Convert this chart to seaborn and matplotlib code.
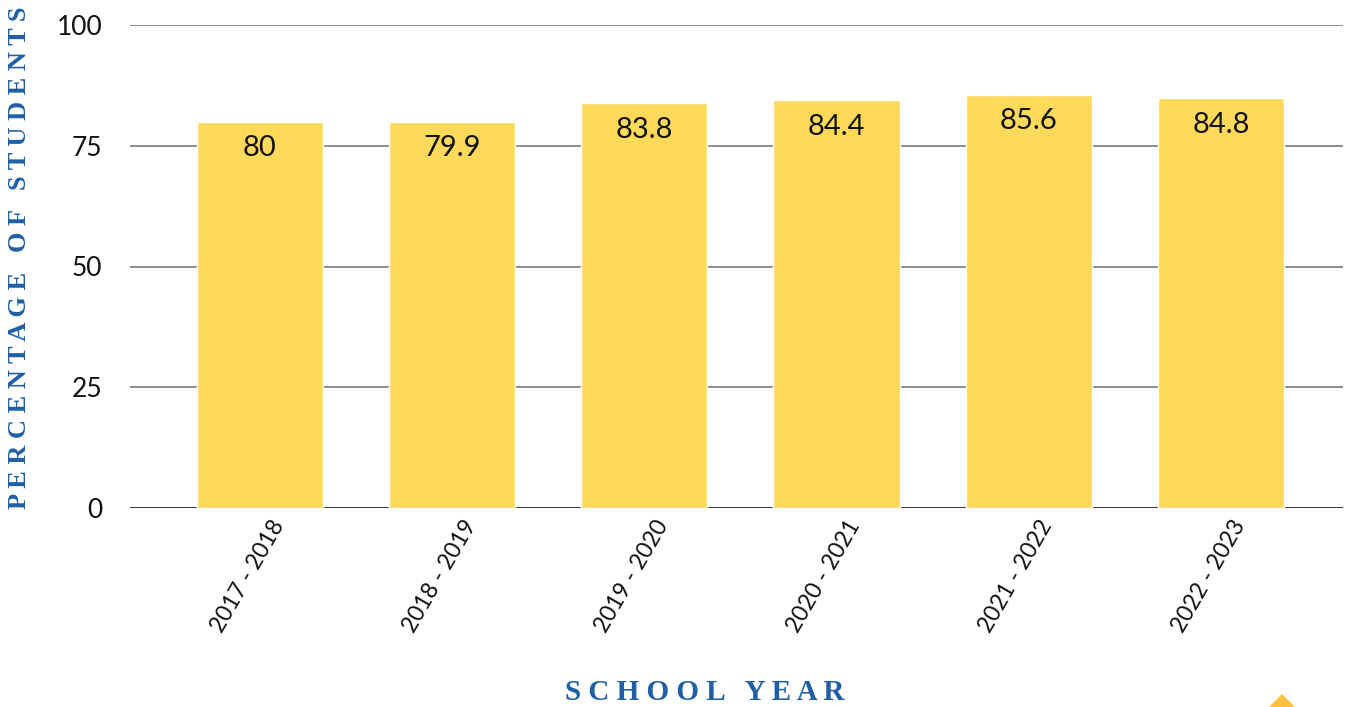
import matplotlib
matplotlib.use("Agg")
import matplotlib.pyplot as plt
from matplotlib.patches import Polygon
from matplotlib.transforms import ScaledTranslation
import seaborn as sns
import pandas as pd

school_years = ["2017 - 2018", "2018 - 2019", "2019 - 2020",
                "2020 - 2021", "2021 - 2022", "2022 - 2023"]
percentages = [80, 79.9, 83.8, 84.4, 85.6, 84.8]
y_ticks = [0, 25, 50, 75, 100]

df = pd.DataFrame({"year": school_years, "pct": percentages})

sns.set_theme(style="white")
plt.rcParams["font.family"] = ["Lato", "DejaVu Sans"]

BAR = "#FFD95A"
BLUE = "#1F5FA5"

fig = plt.figure(figsize=(13.55, 7.07), dpi=100)
ax = fig.add_axes([130 / 1355, 1 - 508 / 707, (1343 - 130) / 1355, 483 / 707])

sns.barplot(data=df, x="year", y="pct", color=BAR, width=0.656,
            saturation=1, ax=ax, zorder=3)

ax.set_ylim(0, 100)
ax.set_xlim(-0.675, len(school_years) - 1 + 0.635)
ax.set_yticks(y_ticks)
ax.set_yticklabels([str(t) for t in y_ticks], fontsize=19, color="#111111")
for t in y_ticks:
    ax.axhline(t, color="#000000" if t == 0 else "#6e6e6e", lw=1.1, zorder=1)

for s in ax.spines.values():
    s.set_visible(False)
ax.tick_params(axis="y", length=0, pad=20)
ax.tick_params(axis="x", length=0, pad=6)
shift = ScaledTranslation(10 / 100, 0, fig.dpi_scale_trans)
for lbl in ax.get_xticklabels():
    lbl.set_rotation(60)
    lbl.set_ha("right")
    lbl.set_rotation_mode("anchor")
    lbl.set_fontsize(16.5)
    lbl.set_color("#111111")
    lbl.set_transform(lbl.get_transform() + shift)

for i, v in enumerate(percentages):
    ax.annotate(f"{v:g}", (i, v), xytext=(0, -19), textcoords="offset points",
                ha="center", va="center", fontsize=21, color="#111111", zorder=4)

ax.set_xlabel("")
ax.set_ylabel("")

fig.text(705 / 1355, 1 - 693 / 707, "S C H O O L   Y E A R", ha="center",
         va="center", fontsize=21, fontweight="bold", color=BLUE,
         family="Liberation Serif")
fig.text(20 / 1355, 1 - 258 / 707, "P E R C E N T A G E   O F   S T U D E N T S",
         ha="center", va="center", rotation=90, fontsize=19, fontweight="bold",
         color=BLUE, family="Liberation Serif")

# small accent marker in the bottom-right corner
fig.patches.append(Polygon([(1270 / 1355, 0), (1282 / 1355, 1 - 695 / 707),
                            (1294 / 1355, 0)], closed=True,
                           transform=fig.transFigure, color="#FFC13B"))

fig.savefig("out.png", dpi=100, facecolor="white")
